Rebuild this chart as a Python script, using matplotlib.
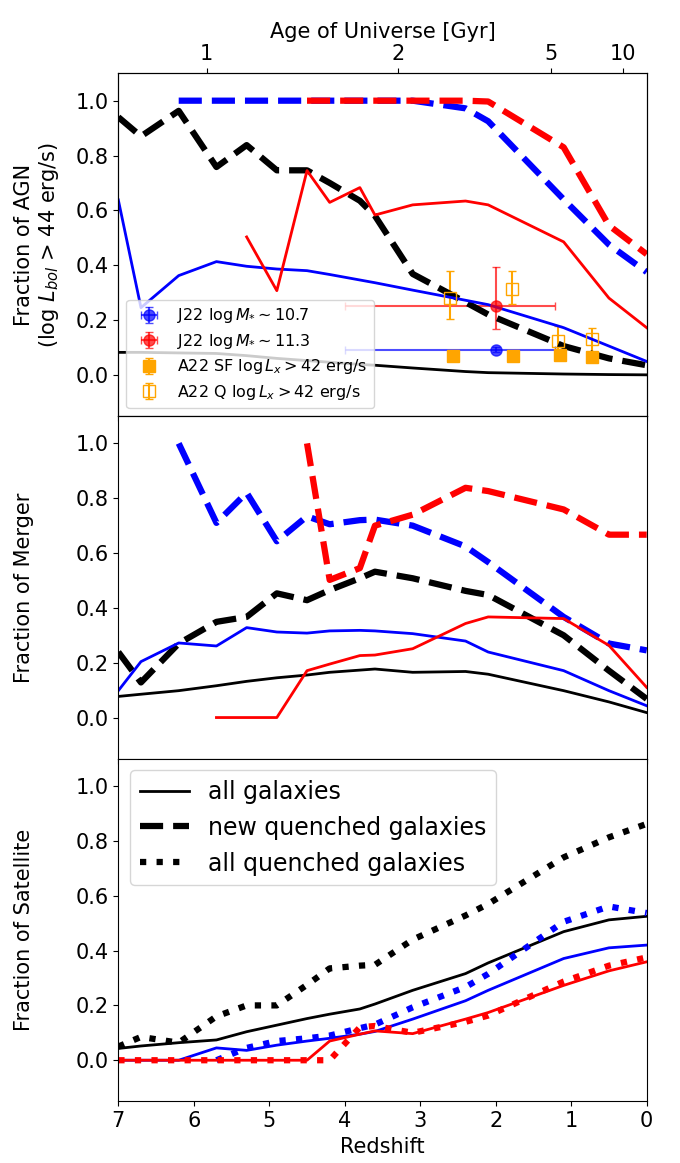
# Fractions of AGN / merger / satellite vs redshift, three stacked panels
import numpy as np
import matplotlib.pyplot as plt

nan = np.nan

# redshift grid of the model curves
z = [7.0, 6.7, 6.2, 5.7, 5.3, 4.9, 4.5, 4.2, 3.8, 3.6, 3.1, 2.4, 2.1, 1.1, 0.5, 0.0]

# AGN fraction (log Lbol > 44)
agn_all = [0.082, 0.082, 0.080, 0.078, 0.070, 0.060, 0.052, 0.046, 0.038, 0.035, 0.025, 0.012, 0.008, 0.003, 0.001, 0.0]
agn_all_new = [0.94, 0.87, 0.963, 0.758, 0.838, 0.746, 0.746, 0.70, 0.635, 0.58, 0.368, 0.265, 0.22, 0.105, 0.06, 0.035]
agn_lo = [0.638, 0.245, 0.362, 0.413, 0.396, 0.386, 0.38, 0.366, 0.346, 0.336, 0.309, 0.272, 0.256, 0.172, 0.105, 0.049]
agn_lo_new = [nan, nan, 1.0, 1.0, 1.0, 1.0, 1.0, 1.0, 1.0, 1.0, 1.0, 0.972, 0.925, 0.64, 0.475, 0.375]
agn_hi = [nan, nan, nan, nan, 0.503, 0.307, 0.745, 0.629, 0.683, 0.583, 0.62, 0.634, 0.62, 0.485, 0.28, 0.172]
agn_hi_new = [nan, nan, nan, nan, nan, nan, 1.0, 1.0, 1.0, 1.0, 1.0, 1.0, 0.997, 0.83, 0.545, 0.44]

# merger fraction
mer_all = [0.077, 0.085, 0.098, 0.116, 0.132, 0.145, 0.155, 0.165, 0.173, 0.177, 0.165, 0.168, 0.158, 0.098, 0.057, 0.018]
mer_all_new = [0.239, 0.128, 0.27, 0.349, 0.367, 0.453, 0.428, 0.465, 0.508, 0.532, 0.508, 0.462, 0.447, 0.30, 0.171, 0.068]
mer_lo = [0.098, 0.204, 0.272, 0.261, 0.328, 0.312, 0.308, 0.316, 0.318, 0.316, 0.306, 0.279, 0.239, 0.171, 0.098, 0.043]
mer_lo_new = [nan, nan, 1.0, 0.71, 0.82, 0.643, 0.734, 0.705, 0.72, 0.722, 0.70, 0.624, 0.567, 0.367, 0.27, 0.245]
mer_hi = [nan, nan, nan, 0.0, 0.0, 0.0, 0.171, 0.195, 0.226, 0.228, 0.251, 0.343, 0.367, 0.361, 0.263, 0.11]
mer_hi_new = [nan, nan, nan, nan, nan, nan, 1.0, 0.502, 0.545, 0.70, 0.74, 0.838, 0.826, 0.759, 0.667, 0.667]

# satellite fraction
sat_all = [0.043, 0.052, 0.064, 0.074, 0.104, 0.128, 0.152, 0.168, 0.187, 0.205, 0.255, 0.316, 0.355, 0.469, 0.512, 0.525]
sat_all_q = [0.05, 0.085, 0.064, 0.16, 0.20, 0.20, 0.275, 0.335, 0.345, 0.348, 0.44, 0.528, 0.57, 0.74, 0.813, 0.862]
sat_lo = [0.0, 0.0, 0.0, 0.045, 0.036, 0.055, 0.07, 0.08, 0.095, 0.105, 0.15, 0.217, 0.255, 0.371, 0.41, 0.42]
sat_lo_q = [nan, nan, nan, 0.0, 0.045, 0.07, 0.08, 0.09, 0.117, 0.13, 0.193, 0.267, 0.315, 0.505, 0.561, 0.537]
sat_hi = [0.0, 0.0, 0.0, 0.0, 0.0, 0.0, 0.0, 0.07, 0.095, 0.107, 0.097, 0.15, 0.174, 0.273, 0.326, 0.359]
sat_hi_q = [0.0, 0.0, 0.0, 0.0, 0.0, 0.0, 0.0, 0.0, 0.12, 0.125, 0.10, 0.14, 0.163, 0.287, 0.345, 0.375]

# observations
j22_z = 2.0
j22_zerr = [[0.78], [2.0]]
j22_lo_f, j22_lo_ferr = 0.092, [[0.01], [0.01]]
j22_hi_f, j22_hi_ferr = 0.252, [[0.086], [0.141]]

a22_sf_z = [2.56, 1.77, 1.15, 0.73]
a22_sf_f = [0.067, 0.067, 0.074, 0.065]
a22_sf_err = [0.01, 0.01, 0.01, 0.01]
a22_q_z = [2.60, 1.79, 1.17, 0.73]
a22_q_f = [0.282, 0.313, 0.123, 0.129]
a22_q_err_lo = [0.08, 0.055, 0.056, 0.049]
a22_q_err_hi = [0.098, 0.064, 0.055, 0.043]

# age of universe ticks (Gyr) and where they sit in redshift
age_ticks = ['1', '2', '5', '10']
age_tick_z = [5.83, 3.29, 1.27, 0.32]

plt.rcParams['font.size'] = 15

fig, axes = plt.subplots(3, 1, figsize=(6.8, 11.63), dpi=100, sharex=True)
fig.subplots_adjust(left=0.174, right=0.951, top=0.937, bottom=0.053, hspace=0)

lw_s, lw_d = 2, 4.5

# --- AGN panel
ax = axes[0]
h1 = ax.errorbar(j22_z, j22_lo_f, xerr=j22_zerr, yerr=j22_lo_ferr, fmt='o', color='blue',
                 alpha=0.7, ms=8, capsize=3, label=r'J22 $\log M_{*}\sim 10.7$')
h2 = ax.errorbar(j22_z, j22_hi_f, xerr=j22_zerr, yerr=j22_hi_ferr, fmt='o', color='red',
                 alpha=0.7, ms=8, capsize=3, label=r'J22 $\log M_{*}\sim 11.3$')
h3 = ax.errorbar(a22_sf_z, a22_sf_f, yerr=a22_sf_err, fmt='s', color='orange', ms=8,
                 capsize=3, label=r'A22 SF $\log L_x > 42$ erg/s')
h4 = ax.errorbar(a22_q_z, a22_q_f, yerr=[a22_q_err_lo, a22_q_err_hi], fmt='s', color='orange',
                 mfc='none', ms=8, capsize=3, label=r'A22 Q $\log L_x > 42$ erg/s')
ax.plot(z, agn_all, '-', color='k', lw=lw_s)
ax.plot(z, agn_all_new, '--', color='k', lw=lw_d)
ax.plot(z, agn_lo, '-', color='blue', lw=lw_s)
ax.plot(z, agn_lo_new, '--', color='blue', lw=lw_d)
ax.plot(z, agn_hi, '-', color='red', lw=lw_s)
ax.plot(z, agn_hi_new, '--', color='red', lw=lw_d)
ax.legend(handles=[h1, h2, h3, h4], loc='lower left', fontsize=11.5, labelspacing=0.4)
ax.set_ylabel('Fraction of AGN\n(log $L_{bol}$ > 44 erg/s)')
ax.yaxis.set_label_coords(-0.108, 0.5)

# --- merger panel
ax = axes[1]
ax.plot(z, mer_all, '-', color='k', lw=lw_s)
ax.plot(z, mer_all_new, '--', color='k', lw=lw_d)
ax.plot(z, mer_lo, '-', color='blue', lw=lw_s)
ax.plot(z, mer_lo_new, '--', color='blue', lw=lw_d)
ax.plot(z, mer_hi, '-', color='red', lw=lw_s)
ax.plot(z, mer_hi_new, '--', color='red', lw=lw_d)
ax.set_ylabel('Fraction of Merger')
ax.yaxis.set_label_coords(-0.16, 0.5)

# --- satellite panel
ax = axes[2]
ax.plot(z, sat_all, '-', color='k', lw=lw_s)
ax.plot(z, sat_all_q, ':', color='k', lw=lw_d)
ax.plot(z, sat_lo, '-', color='blue', lw=lw_s)
ax.plot(z, sat_lo_q, ':', color='blue', lw=lw_d)
ax.plot(z, sat_hi, '-', color='red', lw=lw_s)
ax.plot(z, sat_hi_q, ':', color='red', lw=lw_d)
l1, = ax.plot([], [], '-', color='k', lw=lw_s, label='all galaxies')
l2, = ax.plot([], [], '--', color='k', lw=lw_d, label='new quenched galaxies')
l3, = ax.plot([], [], ':', color='k', lw=lw_d, label='all quenched galaxies')
ax.legend(handles=[l1, l2, l3], loc='upper left', fontsize=17, handlelength=2.1)
ax.set_ylabel('Fraction of Satellite')
ax.yaxis.set_label_coords(-0.16, 0.5)
ax.set_xlabel('Redshift')

for ax in axes:
    ax.set_ylim(-0.15, 1.1)
    ax.set_yticks([0.0, 0.2, 0.4, 0.6, 0.8, 1.0])
axes[2].set_xlim(7, 0)
axes[2].set_xticks([7, 6, 5, 4, 3, 2, 1, 0])

top = axes[0].twiny()
top.set_xlim(7, 0)
top.set_xticks(age_tick_z)
top.set_xticklabels(age_ticks)
top.set_xlabel('Age of Universe [Gyr]')

fig.savefig('out.png', dpi=100)
